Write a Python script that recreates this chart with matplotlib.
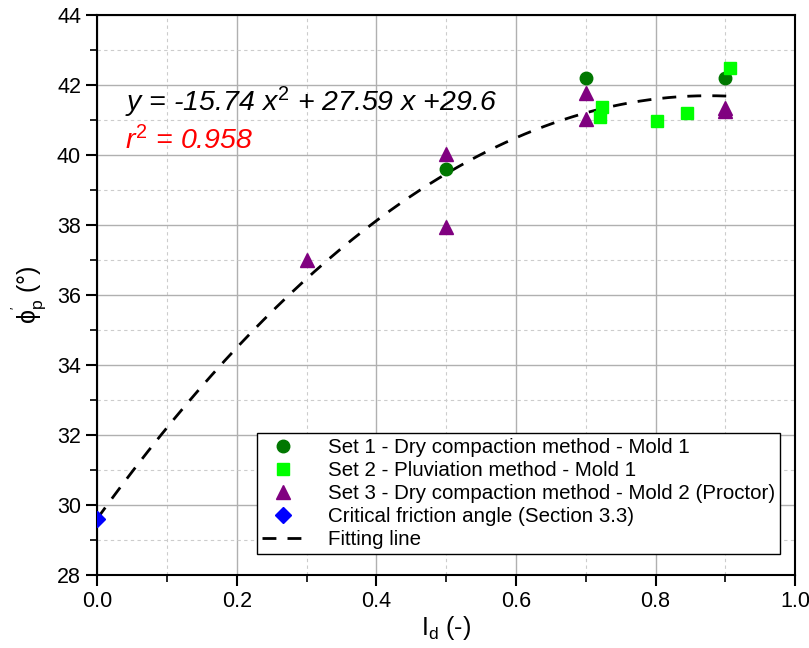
import numpy as np
import matplotlib.pyplot as plt
from matplotlib.ticker import MultipleLocator

plt.rcParams['font.family'] = ['Liberation Sans', 'DejaVu Sans']
plt.rcParams['mathtext.fontset'] = 'custom'
plt.rcParams['mathtext.rm'] = 'Liberation Sans'
plt.rcParams['mathtext.it'] = 'Liberation Sans:italic'

set1_x = [0.5, 0.7, 0.9]
set1_y = [39.6, 42.2, 42.2]
set2_x = [0.723, 0.721, 0.802, 0.845, 0.907]
set2_y = [41.38, 41.08, 40.98, 41.19, 42.48]
set3_x = [0.3, 0.5, 0.5, 0.7, 0.7, 0.9, 0.9]
set3_y = [37.0, 40.02, 37.95, 41.76, 41.03, 41.33, 41.25]
crit_x = [0.0]
crit_y = [29.6]
coef = [-15.74, 27.59, 29.6]

fig = plt.figure(figsize=(8.09, 6.48), dpi=100)
ax = fig.add_axes([0.12, 0.113, 0.863, 0.864])

xf = np.linspace(0, 0.91, 200)
yf = np.polyval(coef, xf)

ax.plot(set1_x, set1_y, 'o', color='#007700', ms=9, label='Set 1 - Dry compaction method - Mold 1', zorder=3)
ax.plot(set2_x, set2_y, 's', color='#00ff00', ms=8, label='Set 2 - Pluviation method - Mold 1', zorder=3)
ax.plot(set3_x, set3_y, '^', color='#800080', ms=10, label='Set 3 - Dry compaction method - Mold 2 (Proctor)', zorder=3)
ax.plot(crit_x, crit_y, 'D', color='#0000ff', ms=8, label='Critical friction angle (Section 3.3)', zorder=3)
ax.plot(xf, yf, '--', color='black', lw=2, dashes=(5, 4), label='Fitting line', zorder=2)

ax.set_xlim(0, 1)
ax.set_ylim(28, 44)
ax.xaxis.set_major_locator(MultipleLocator(0.2))
ax.xaxis.set_minor_locator(MultipleLocator(0.1))
ax.yaxis.set_major_locator(MultipleLocator(2))
ax.yaxis.set_minor_locator(MultipleLocator(1))
ax.xaxis.set_major_formatter(plt.FuncFormatter(lambda v, p: f'{v:.1f}'))
ax.grid(which='major', color='#b0b0b0', lw=1)
ax.grid(which='minor', color='#cccccc', lw=0.8, ls=(0, (3, 3)))
ax.set_axisbelow(True)
ax.tick_params(which='major', direction='out', length=8, width=1.5, labelsize=15.5)
ax.tick_params(which='minor', direction='out', length=5, width=1.2)
ax.tick_params(axis='x', pad=4)
for s in ax.spines.values():
    s.set_linewidth(1.5)

ax.set_xlabel(r'I$_\mathregular{d}$ (-)', fontsize=18, labelpad=1)
ax.set_ylabel(r"$\mathregular{\phi_p^{'}}$ (°)", fontsize=18, labelpad=6)

ax.text(0.04, 41.49, r'$y$ = -15.74 $x^2$ + 27.59 $x$ +29.6', fontsize=20.5, style='italic', va='center')
ax.text(0.04, 40.4, r'$r^2$ = 0.958', fontsize=20.5, style='italic', color='red', va='center')

leg = ax.legend(loc='lower right', fontsize=14.8, frameon=True, fancybox=False, framealpha=1,
                edgecolor='black', borderpad=0.25, labelspacing=0.2, handlelength=2.0,
                handletextpad=1.2, bbox_to_anchor=(0.993, 0.018))
leg.get_frame().set_linewidth(1)

fig.savefig('out.png', dpi=100)
